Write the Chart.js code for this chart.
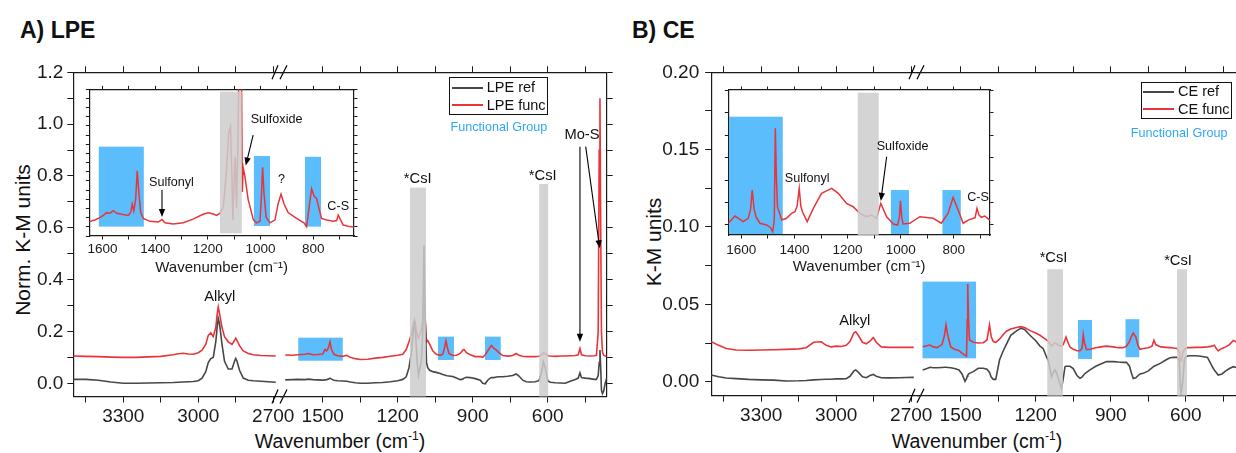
<!DOCTYPE html>
<html>
<head>
<meta charset="utf-8">
<script src="https://cdn.jsdelivr.net/npm/chart.js@4.4.1/dist/chart.umd.min.js"></script>
<style>
  body { margin: 0; width: 1236px; height: 453px; overflow: hidden; background: #fff; position: relative;
         font-family: "Liberation Sans", Arial, Helvetica, sans-serif; color: #111; }
  canvas { position: absolute; }
  .t { position: absolute; white-space: nowrap; line-height: 1; }
  .box { position: absolute; border: 1.3px solid #111; box-sizing: border-box; background: #fff; }
  .sw { position: absolute; height: 0; border-top: 2px solid; }
</style>
</head>
<body>
<div class="t" style="left:20px;top:19px;font-size:23px;font-weight:bold">A) LPE</div>
<div class="t" style="left:632px;top:19px;font-size:23px;font-weight:bold">B) CE</div>
<div class="t" style="left:21.5px;top:240px;font-size:21px;transform:translate(-50%,-50%) rotate(-90deg)">Norm. K-M units</div>
<div class="t" style="left:652.5px;top:242px;font-size:21px;transform:translate(-50%,-50%) rotate(-90deg)">K-M units</div>
<div class="t" style="left:340px;top:432px;font-size:19.5px;transform:translateX(-50%)">Wavenumber (cm<span style="font-size:12px;position:relative;top:-8px">-1</span>)</div>
<div class="t" style="left:977px;top:432px;font-size:19.5px;transform:translateX(-50%)">Wavenumber (cm<span style="font-size:12px;position:relative;top:-8px">-1</span>)</div>

<script>
// ---------------- data ----------------
const seriesA = ["LPE ref", "LPE func"];
const seriesB = ["CE ref", "CE func"];

// A) LPE, high wavenumber side of the break
const aLeftWn = [3500,3450,3400,3350,3300,3250,3200,3150,3100,3080,
                 3060,3040,3020,3000,2985,2970,2960,2950,2940,2930,
                 2925,2920,2915,2905,2895,2880,2865,2855,2850,2845,
                 2835,2820,2800,2780,2750,2720,2690];
const aFuncLeft = [.105,.104,.103,.101,.100,.100,.102,.104,.110,.114,
                   .116,.113,.112,.118,.128,.150,.185,.195,.180,.215,
                   .260,.295,.270,.215,.180,.160,.150,.165,.174,.165,
                   .145,.125,.115,.110,.107,.106,.105];
const aRefLeft = [.015,.015,.012,.005,.000,.000,.001,.002,.003,.004,
                  .005,.006,.007,.010,.020,.045,.080,.095,.100,.160,
                  .210,.250,.230,.150,.085,.055,.055,.085,.096,.085,
                  .050,.020,.012,.010,.008,.006,.004];

// A) LPE, fingerprint side of the break
const aRightWn = [1650,1620,1600,1570,1558,1540,1520,1500,1491,1485,
                  1478,1471,1465,1455,1440,1420,1404,1390,1370,1350,
                  1320,1290,1260,1230,1200,1180,1166,1155,1145,1138,
                  1133,1128,1122,1117,1111,1105,1100,1095,1090,1085,
                  1080,1072,1060,1046,1030,1020,1012,1007,1002,995,
                  980,965,950,940,935,925,910,890,870,860,
                  850,840,830,825,815,805,795,780,760,740,
                  726,715,700,686,670,650,635,625,617,610,
                  600,590,570,550,530,510,490,478,471,465,
                  450,431,415,405,398,394,391,388,385,381,
                  376,370,364];
const aFuncRight = [.109,.108,.110,.112,.115,.110,.111,.113,.130,.125,
                    .135,.160,.130,.112,.106,.104,.108,.100,.095,.092,
                    .093,.097,.100,.104,.108,.112,.130,.160,.190,.225,
                    .244,.220,.185,.175,.190,.210,.240,.350,.240,.160,
                    .165,.150,.125,.112,.108,.112,.140,.164,.140,.115,
                    .107,.108,.115,.128,.130,.118,.110,.103,.103,.100,
                    .110,.125,.140,.146,.135,.128,.118,.107,.105,.107,
                    .115,.108,.104,.103,.103,.103,.104,.110,.118,.115,
                    .106,.105,.104,.105,.105,.106,.107,.110,.134,.110,
                    .106,.105,.106,.108,.200,.900,1.100,.600,.200,.120,
                    .108,.105,.104];
const aRefRight = [.013,.014,.015,.014,.016,.014,.013,.012,.013,.014,
                   .016,.020,.016,.012,.010,.009,.008,.005,.002,.000,
                   .000,.002,.003,.006,.010,.015,.025,.060,.120,.200,
                   .240,.180,.080,.030,.060,.090,.200,.533,.250,.080,
                   .060,.050,.045,.042,.038,.034,.032,.030,.029,.028,
                   .026,.020,.014,.016,.020,.023,.022,.018,.012,.000,
                   -.002,.012,.020,.022,.022,.024,.025,.025,.027,.030,
                   .036,.028,.012,.006,.005,.006,.010,.040,.083,.060,
                   .010,.004,.002,.001,.000,.008,.015,.020,.040,.022,
                   .020,.018,.015,.015,.030,.080,.128,.060,-.026,-.040,
                   -.030,.000,.020];

// B) CE, high wavenumber side
const bLeftWn = [3500,3470,3440,3400,3350,3300,3250,3200,3150,3120,
                 3090,3060,3040,3020,3000,2980,2960,2945,2930,2922,
                 2912,2895,2880,2865,2852,2840,2820,2790,2750,2720,2690];
const bFuncLeft = [.0259,.0235,.0215,.0205,.0203,.0205,.0207,.0209,.0212,.0220,
                   .0255,.0258,.0235,.0225,.0230,.0228,.0235,.0260,.0315,.0323,
                   .0300,.0255,.0245,.0262,.0285,.0255,.0225,.0222,.0222,.0222,.0222];
const bRefLeft = [.0043,.0032,.0024,.0020,.0015,.0012,.0010,.0005,.0006,.0008,
                  .0012,.0014,.0016,.0016,.0018,.0018,.0020,.0035,.0068,.0076,
                  .0062,.0032,.0026,.0040,.0047,.0035,.0026,.0025,.0026,.0027,.0028];

// B) CE, fingerprint side
const bRightWn = [1652,1635,1623,1610,1595,1575,1565,1559,1552,1540,
                  1525,1507,1495,1483,1477,1474,1472,1469,1465,1450,
                  1430,1410,1395,1385,1378,1370,1360,1345,1330,1317,
                  1300,1277,1260,1245,1223,1200,1183,1170,1157,1150,
                  1137,1124,1117,1110,1097,1090,1083,1079,1070,1063,
                  1050,1035,1023,1015,1010,1005,997,983,960,940,
                  917,890,870,850,837,825,818,810,800,790,
                  783,770,750,735,727,720,700,680,663,650,
                  634,626,622,619,616,612,605,595,586,560,
                  540,513,495,486,478,470,455,440,425,410,
                  395,380,364];
const bFuncRight = [.0226,.0232,.0237,.0225,.0220,.0240,.0300,.0367,.0300,.0225,
                    .0210,.0201,.0185,.0170,.0165,.0400,.0632,.0400,.0270,.0255,
                    .0250,.0252,.0270,.0367,.0290,.0260,.0255,.0275,.0305,.0326,
                    .0340,.0350,.0356,.0350,.0330,.0315,.0300,.0285,.0270,.0260,
                    .0230,.0250,.0245,.0235,.0230,.0240,.0270,.0288,.0250,.0224,
                    .0210,.0200,.0200,.0215,.0304,.0250,.0207,.0210,.0220,.0225,
                    .0230,.0225,.0220,.0220,.0230,.0260,.0290,.0315,.0290,.0230,
                    .0210,.0215,.0220,.0230,.0268,.0240,.0225,.0222,.0220,.0218,
                    .0215,.0190,.0150,.0135,.0150,.0190,.0210,.0220,.0220,.0222,
                    .0222,.0225,.0230,.0236,.0215,.0200,.0215,.0225,.0240,.0267,
                    .0255,.0265,.0270];
const bRefRight = [.0076,.0085,.0093,.0090,.0090,.0092,.0093,.0093,.0092,.0090,
                   .0085,.0076,.0050,.0002,.0020,.0035,.0040,.0050,.0054,.0065,
                   .0087,.0087,.0080,.0060,.0030,.0015,.0015,.0140,.0200,.0243,
                   .0300,.0329,.0345,.0338,.0300,.0265,.0230,.0213,.0160,.0138,
                   .0032,.0076,.0060,.0022,-.0043,.0020,.0097,.0100,.0100,.0100,
                   .0085,.0040,.0022,.0030,.0040,.0050,.0060,.0076,.0100,.0115,
                   .0130,.0130,.0127,.0125,.0125,.0100,.0060,.0021,.0025,.0040,
                   .0050,.0054,.0070,.0090,.0100,.0105,.0120,.0140,.0155,.0157,
                   .0157,.0140,.0000,-.0086,-.0086,.0000,.0150,.0165,.0168,.0168,
                   .0165,.0157,.0100,.0076,.0060,.0043,.0050,.0070,.0085,.0097,
                   .0090,.0100,.0105];

// insets (LPE func / CE func, arbitrary zoomed scale)
const insetAWn = [1650,1629,1610,1597,1584,1572,1559,1546,1527,1502,
                  1493,1487,1481,1474,1468,1462,1455,1445,1420,1388,
                  1374,1363,1331,1293,1256,1218,1198,1179,1167,1154,
                  1141,1129,1121,1114,1109,1105,1100,1096,1091,1086,
                  1081,1073,1069,1066,1059,1047,1027,1015,1002,997,
                  992,987,979,964,945,933,922,911,895,863,
                  835,825,815,806,796,787,777,768,749,724,
                  711,705,696,686,661,645];
const insetAFunc = [.098,.109,.125,.140,.159,.155,.173,.155,.148,.140,
                    .160,.218,.170,.250,.445,.300,.160,.120,.100,.095,
                    .112,.090,.082,.090,.115,.148,.159,.150,.140,.155,
                    .200,.450,.700,.745,.450,.110,.400,.540,.190,.600,
                    1.300,1.300,.300,.468,.404,.250,.110,.090,.100,.250,
                    .468,.300,.130,.090,.110,.220,.286,.220,.160,.120,
                    .090,.064,.200,.322,.270,.257,.180,.120,.109,.100,
                    .105,.143,.110,.075,.064,.062];
const insetBWn = [1649,1624,1611,1593,1574,1565,1559,1552,1545,1530,
                  1505,1490,1482,1476,1472,1468,1464,1448,1430,1411,
                  1398,1390,1382,1376,1370,1352,1329,1298,1260,1235,
                  1204,1179,1154,1129,1110,1091,1075,1053,1028,1012,
                  1005,1001,996,991,966,928,878,847,822,803,
                  784,765,746,720,713,706,697,684,665];
const insetBFunc = [.081,.131,.115,.092,.115,.180,.310,.180,.126,.081,
                    .069,.050,.023,.100,.736,.400,.195,.103,.115,.149,
                    .161,.200,.322,.200,.160,.092,.184,.287,.322,.287,
                    .218,.195,.149,.126,.138,.115,.218,.126,.076,.069,
                    .120,.236,.120,.076,.081,.126,.115,.081,.149,.259,
                    .172,.081,.103,.120,.184,.140,.122,.131,.103];
const insetBTicks = [0.069, 0.224, 0.379, 0.534, 0.689, 0.844, 1.0];

// shaded bands: [wn from, wn to, value from, value to]
const aMainBlue = [[1598,1420,.087,.176],[1039,975,.09,.18],[851,788,.09,.18]];
const aMainGray = [[1151,1087,-.06,.755],[634,598,-.06,.769]];
const bMainBlue = [[1653,1439,.0151,.0647],[1031,975,.0147,.0399],[841,786,.0158,.0404]];
const bMainGray = [[1154,1091,-.01,.0727],[635,595,-.01,.0727]];
const aInsetBlue = [[1614,1443,.064,.609],[1025,964,.068,.545],[831,770,.064,.54]];
const aInsetGray = [[1154,1071,.018,.984]];
const bInsetBlue = [[1646,1444,.007,.816],[1037,969,.007,.31],[843,774,.007,.31]];
const bInsetGray = [[1162,1083,0,.981]];

// ---------------- style ----------------
const FONT = "'Liberation Sans', Arial, Helvetica, sans-serif";
const RED = "#e8353a", GRAY = "#474747", BLUE = "#5bbdfb", SHADE = "rgba(205,205,205,0.85)", INK = "#1a1a1a";
Chart.defaults.font.family = FONT;
Chart.defaults.color = INK;

const pts = (xs, ys) => xs.map((x, i) => ({ x: x, y: ys[i] }));

function canvasAt(left, top, w, h) {
  const c = document.createElement("canvas");
  c.width = w; c.height = h;
  c.style.left = left + "px"; c.style.top = top + "px";
  c.style.width = w + "px"; c.style.height = h + "px";
  document.body.appendChild(c);
  return c;
}

// tick values on multiples of step inside [min, top]
function stepTicks(min, top, step) {
  const out = [];
  for (let k = Math.ceil(min / step - 1e-9); k * step <= top + 1e-9; k++) {
    out.push({ value: Math.round(k * step * 1e6) / 1e6 });
  }
  return out;
}

function shade(chart, list, color) {
  const xs = chart.scales.x, ys = chart.scales.y, a = chart.chartArea, c = chart.ctx;
  c.save();
  c.beginPath(); c.rect(a.left, a.top, a.right - a.left, a.bottom - a.top); c.clip();
  c.fillStyle = color;
  list.forEach(b => {
    const x0 = xs.getPixelForValue(b[0]), x1 = xs.getPixelForValue(b[1]);
    const y0 = ys.getPixelForValue(b[2]), y1 = ys.getPixelForValue(b[3]);
    c.fillRect(Math.min(x0, x1), Math.min(y0, y1), Math.abs(x1 - x0), Math.abs(y1 - y0));
  });
  c.restore();
}

function arrow(chart, a) {
  const xs = chart.scales.x, ys = chart.scales.y, c = chart.ctx;
  const ax = xs.getPixelForValue(a[0]), ay = ys.getPixelForValue(a[1]);
  const bx = xs.getPixelForValue(a[2]), by = ys.getPixelForValue(a[3]);
  const t = Math.atan2(by - ay, bx - ax), h = 8, w = 3.2;
  c.save();
  c.strokeStyle = c.fillStyle = "#000"; c.lineWidth = 1.1;
  c.beginPath(); c.moveTo(ax, ay); c.lineTo(bx - h * 0.7 * Math.cos(t), by - h * 0.7 * Math.sin(t)); c.stroke();
  c.beginPath(); c.moveTo(bx, by);
  c.lineTo(bx - h * Math.cos(t) + w * Math.sin(t), by - h * Math.sin(t) - w * Math.cos(t));
  c.lineTo(bx - h * Math.cos(t) - w * Math.sin(t), by - h * Math.sin(t) + w * Math.cos(t));
  c.closePath(); c.fill();
  c.restore();
}

function note(chart, n, size) {
  const c = chart.ctx;
  c.save();
  c.font = size + "px " + FONT; c.fillStyle = "#111";
  c.textAlign = "center"; c.textBaseline = "middle";
  c.fillText(n[2], chart.scales.x.getPixelForValue(n[0]), chart.scales.y.getPixelForValue(n[1]));
  c.restore();
}

function breakMarks(chart) {
  const a = chart.chartArea, c = chart.ctx, r = a.right;
  c.save(); c.strokeStyle = "#000"; c.lineWidth = 1.2;
  [a.top, a.bottom].forEach(y => {
    c.beginPath();
    c.moveTo(r - 9, y + 7); c.lineTo(r - 3, y - 7);
    c.moveTo(r - 1, y + 7); c.lineTo(r + 6, y - 7);
    c.stroke();
  });
  c.restore();
}

function marks(cfg) {
  return {
    id: "marks",
    beforeDraw(chart) {
      if (!cfg.bg) return;
      const a = chart.chartArea;
      chart.ctx.save(); chart.ctx.fillStyle = "#fff";
      chart.ctx.fillRect(a.left, a.top, a.right - a.left, a.bottom - a.top);
      chart.ctx.restore();
    },
    beforeDatasetsDraw(chart) { shade(chart, cfg.blue || [], BLUE); },
    afterDatasetsDraw(chart) {
      shade(chart, cfg.gray || [], SHADE);
      (cfg.arrows || []).forEach(a => arrow(chart, a));
      (cfg.notes || []).forEach(n => note(chart, n, cfg.fs));
      if (cfg.brk) breakMarks(chart);
    }
  };
}

function xAxis(min, max, step, every, o) {
  return {
    type: "linear", reverse: true, min: min, max: max, position: o.pos || "bottom",
    afterBuildTicks: s => { s.ticks = stepTicks(min, o.tickMax || max, step); },
    afterFit: s => { s.height = o.h || 0; s.paddingLeft = 0; s.paddingRight = 0; },
    ticks: {
      display: !!o.labels, stepSize: step, includeBounds: false, autoSkip: false,
      maxRotation: 0, minRotation: 0, padding: o.pad || 0, color: INK, font: { size: o.fs || 19 },
      callback: v => (Math.round(v) % every === 0 ? String(Math.round(v)) : "")
    },
    grid: { drawOnChartArea: false, drawTicks: true, tickLength: o.tl || 6, color: INK, lineWidth: 1 },
    border: { display: true, color: INK, width: 1.2 },
    title: o.title ? { display: true, text: o.title, color: INK, font: { size: o.tfs }, padding: { top: 0, bottom: o.tpad } }
                   : { display: false }
  };
}

function yAxis(min, max, step, o) {
  return {
    type: "linear", min: min, max: max, position: o.pos || "left",
    afterBuildTicks: s => { s.ticks = o.list ? o.list.map(v => ({ value: v })) : stepTicks(min, max, step); },
    afterFit: s => { s.width = o.w || 0; s.paddingTop = 0; s.paddingBottom = 0; },
    ticks: {
      display: !!o.labels, stepSize: step, includeBounds: false, autoSkip: false,
      padding: o.pad || 4, color: INK, font: { size: 19 }, callback: o.fmt || (v => v)
    },
    grid: { drawOnChartArea: false, drawTicks: true, tickLength: o.tl || 6, color: INK, lineWidth: 1 },
    border: { display: true, color: INK, width: 1.2 }
  };
}

function lineChart(canvas, names, wn, ref, func, pad, scales, cfg, lw) {
  const sets = [];
  if (ref) sets.push({ label: names[0], data: pts(wn, ref), borderColor: GRAY, borderWidth: lw, pointRadius: 0 });
  sets.push({ label: names[1], data: pts(wn, func), borderColor: RED, borderWidth: lw, pointRadius: 0 });
  return new Chart(canvas, {
    type: "line",
    data: { datasets: sets },
    options: {
      responsive: false, animation: false, events: [],
      layout: { padding: pad, autoPadding: false },
      elements: { line: { tension: 0 } },
      plugins: { legend: { display: false }, tooltip: { enabled: false } },
      scales: scales
    },
    plugins: [marks(cfg)]
  });
}

const fmtA = v => (Math.round(v * 10) % 2 === 0 ? Math.abs(v).toFixed(1) : "");
const fmtB = v => (Math.round(v * 40) % 2 === 0 ? Math.abs(v).toFixed(2) : "");

// ---------------- panel A ----------------
lineChart(canvasAt(0, 55, 300, 398), seriesA, aLeftWn, aRefLeft, aFuncLeft,
  { top: 17.3, right: 19, left: 0, bottom: 0 },
  {
    x: xAxis(2669, 3500, 150, 300, { h: 56.5, labels: true, pad: 3 }),
    xt: xAxis(2669, 3500, 150, 300, { pos: "top" }),
    y: yAxis(-0.051, 1.2, 0.1, { w: 73.3, labels: true, pad: 4, fmt: fmtA })
  },
  { notes: [[2914, 0.334, "Alkyl"]], brk: true, fs: 14.7 }, 1.6);

lineChart(canvasAt(262, 55, 360, 398), seriesA, aRightWn, aRefRight, aFuncRight,
  { top: 17.3, right: 15.3, left: 19, bottom: 0 },
  {
    x: xAxis(364, 1667, 150, 300, { h: 56.5, labels: true, pad: 3, tickMax: 1620 }),
    xt: xAxis(364, 1667, 150, 300, { pos: "top", tickMax: 1620 }),
    y: yAxis(-0.051, 1.2, 0.1, { pos: "right" })
  },
  {
    blue: aMainBlue, gray: aMainGray, fs: 14.7,
    notes: [[1120, 0.788, "*CsI"], [620, 0.80, "*CsI"], [463, 0.958, "Mo-S"]],
    arrows: [[471, 0.913, 471, 0.160], [448, 0.913, 392, 0.521]]
  }, 1.6);

lineChart(canvasAt(80, 80, 290, 200), seriesA, insetAWn, null, insetAFunc,
  { top: 9.3, right: 16, left: 9.3, bottom: 0 },
  {
    x: xAxis(645, 1650, 100, 200, { h: 44, labels: true, pad: 1.2, tl: 3.5, fs: 13.5, title: "Wavenumber (cm\u207B\u00B9)", tfs: 15, tpad: 2.7 }),
    xt: xAxis(645, 1650, 100, 200, { pos: "top", tl: 3.5 }),
    y: yAxis(0, 1, 0.0625, { tl: 3.5 }),
    yr: yAxis(0, 1, 0.0625, { pos: "right", tl: 3.5 })
  },
  {
    bg: true, blue: aInsetBlue, gray: aInsetGray, fs: 12.6,
    notes: [[939, 0.795, "Sulfoxide"], [1338, 0.363, "Sulfonyl"], [920, 0.382, "?"], [705, 0.204, "C-S"]],
    arrows: [[1028, 0.688, 1056, 0.48], [1374, 0.314, 1374, 0.13]]
  }, 1.5);

// ---------------- panel B ----------------
lineChart(canvasAt(625, 55, 312, 398), seriesB, bLeftWn, bRefLeft, bFuncLeft,
  { top: 17.3, right: 19, left: 0, bottom: 0 },
  {
    x: xAxis(2673, 3500, 150, 300, { h: 57.3, labels: true, pad: 3 }),
    xt: xAxis(2673, 3500, 150, 300, { pos: "top" }),
    y: yAxis(-0.00905, 0.2, 0.025, { w: 86.2, labels: true, pad: 6, fmt: fmtB })
  },
  { notes: [[2926, 0.0395, "Alkyl"]], brk: true, fs: 14.7 }, 1.6);

lineChart(canvasAt(899, 55, 360, 398), seriesB, bRightWn, bRefRight, bFuncRight,
  { top: 17.3, right: 15, left: 19, bottom: 0 },
  {
    x: xAxis(367, 1671, 150, 300, { h: 57.3, labels: true, pad: 3, tickMax: 1620 }),
    xt: xAxis(367, 1671, 150, 300, { pos: "top", tickMax: 1620 }),
    y: yAxis(-0.00905, 0.2, 0.025, { pos: "right" })
  },
  {
    blue: bMainBlue, gray: bMainGray, fs: 14.7,
    notes: [[1129, 0.0798, "*CsI"], [631, 0.0783, "*CsI"]]
  }, 1.6);

lineChart(canvasAt(720, 80, 290, 200), seriesB, insetBWn, null, insetBFunc,
  { top: 10, right: 20, left: 8.3, bottom: 0 },
  {
    x: xAxis(664, 1649, 100, 200, { h: 45, labels: true, pad: 3.9, tl: 3.5, fs: 13.5, title: "Wavenumber (cm\u207B\u00B9)", tfs: 15, tpad: 4.3 }),
    xt: xAxis(664, 1649, 100, 200, { pos: "top", tl: 3.5 }),
    y: yAxis(0, 1, 0.1, { tl: 3.5, list: insetBTicks }),
    yr: yAxis(0, 1, 0.1, { pos: "right", tl: 3.5, list: insetBTicks })
  },
  {
    bg: true, blue: bInsetBlue, gray: bInsetGray, fs: 12.6,
    notes: [[993, 0.609, "Sulfoxide"], [1352, 0.391, "Sulfonyl"], [709, 0.26, "C-S"]],
    arrows: [[1053, 0.54, 1075, 0.235]]
  }, 1.5);

// ---------------- legends ----------------
function legend(left, top, w, h, names, rows, lineFrom, lineTo, textAt, note, noteLeft, noteTop) {
  const box = document.createElement("div");
  box.className = "box";
  Object.assign(box.style, { left: left + "px", top: top + "px", width: w + "px", height: h + "px" });
  [GRAY, RED].forEach((col, i) => {
    const sw = document.createElement("div");
    sw.className = "sw";
    Object.assign(sw.style, { left: lineFrom + "px", width: (lineTo - lineFrom) + "px", top: (rows[i] - 1.5) + "px", borderColor: col });
    box.appendChild(sw);
    const tx = document.createElement("div");
    tx.className = "t";
    tx.textContent = names[i];
    Object.assign(tx.style, { left: textAt + "px", top: (rows[i] - 8.4) + "px", fontSize: "14.5px" });
    box.appendChild(tx);
  });
  document.body.appendChild(box);
  const fg = document.createElement("div");
  fg.className = "t";
  fg.textContent = note;
  Object.assign(fg.style, { left: noteLeft + "px", top: noteTop + "px", fontSize: "12.6px", color: "#2ea8f7" });
  document.body.appendChild(fg);
}
legend(449.4, 77.3, 98.8, 37.7, seriesA, [10, 27.7], 1.2, 32.4, 36.4, "Functional Group", 450.6, 121.3);
legend(1140.6, 81.7, 91.2, 37.3, seriesB, [10, 27.3], 1, 32.4, 36.4, "Functional Group", 1130.8, 126.9);
</script>
</body>
</html>
